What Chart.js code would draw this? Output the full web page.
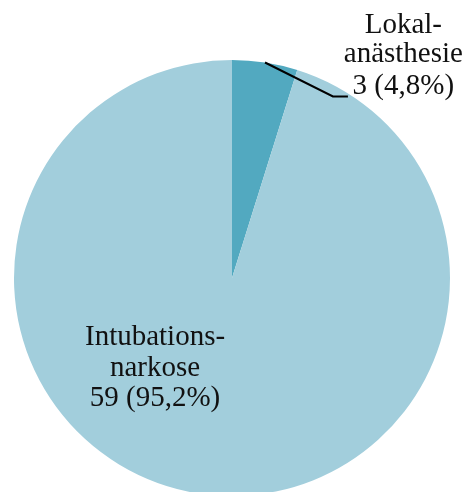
<!DOCTYPE html>
<html>
<head>
<meta charset="utf-8">
<script src="https://cdn.jsdelivr.net/npm/chart.js@4"></script>
<style>
  html, body { margin: 0; padding: 0; background: #fff; overflow: hidden; }
  #wrap { width: 466px; height: 496px; position: relative; }
</style>
</head>
<body>
<div id="wrap"><canvas id="c"></canvas></div>
<script>
// Anästhesieverfahren
const categories = ['Lokalanästhesie', 'Intubationsnarkose'];
const counts = [3, 59];
const percents = ['4,8%', '95,2%'];
const labelLines = [['Lokal-', 'anästhesie'], ['Intubations-', 'narkose']];
const colors = ['#52A9C0', '#A2CEDC'];

const FONT = '29px "Liberation Serif", serif';

const labelPlugin = {
  id: 'sliceLabels',
  afterDraw(chart) {
    const ctx = chart.ctx;
    const meta = chart.getDatasetMeta(0);
    const small = meta.data[0];
    const cx = small.x, cy = small.y, R = small.outerRadius;

    ctx.save();
    ctx.font = FONT;
    ctx.fillStyle = '#111';
    ctx.textAlign = 'center';
    ctx.textBaseline = 'alphabetic';

    // leader line for the small slice
    const mid = (small.startAngle + small.endAngle) / 2;
    const ax = cx + Math.cos(mid) * R;
    const ay = cy + Math.sin(mid) * R;
    const ex = cx + 0.463 * R, ey = cy - 0.833 * R;
    ctx.strokeStyle = '#000';
    ctx.lineWidth = 2;
    ctx.beginPath();
    ctx.moveTo(ax, ay);
    ctx.lineTo(ex, ey);
    ctx.lineTo(ex + 15, ey);
    ctx.stroke();

    const l0 = labelLines[0].concat([counts[0] + ' (' + percents[0] + ')']);
    const lx = cx + 0.786 * R;
    const lys = [-245, -216, -184];
    l0.forEach((t, i) => ctx.fillText(t, lx, cy + lys[i]));

    const l1 = labelLines[1].concat([counts[1] + ' (' + percents[1] + ')']);
    const bx = cx - 0.353 * R;
    const bys = [67, 98, 128];
    l1.forEach((t, i) => ctx.fillText(t, bx, cy + bys[i]));
    ctx.restore();
  }
};

new Chart(document.getElementById('c'), {
  type: 'pie',
  data: {
    labels: categories,
    datasets: [{
      data: counts,
      backgroundColor: colors,
      borderWidth: 0
    }]
  },
  options: {
    responsive: true,
    maintainAspectRatio: false,
    animation: false,
    layout: { padding: { top: 60, left: 14, right: 16, bottom: 0 } },
    plugins: { legend: { display: false }, tooltip: { enabled: false } }
  },
  plugins: [labelPlugin]
});
</script>
</body>
</html>
